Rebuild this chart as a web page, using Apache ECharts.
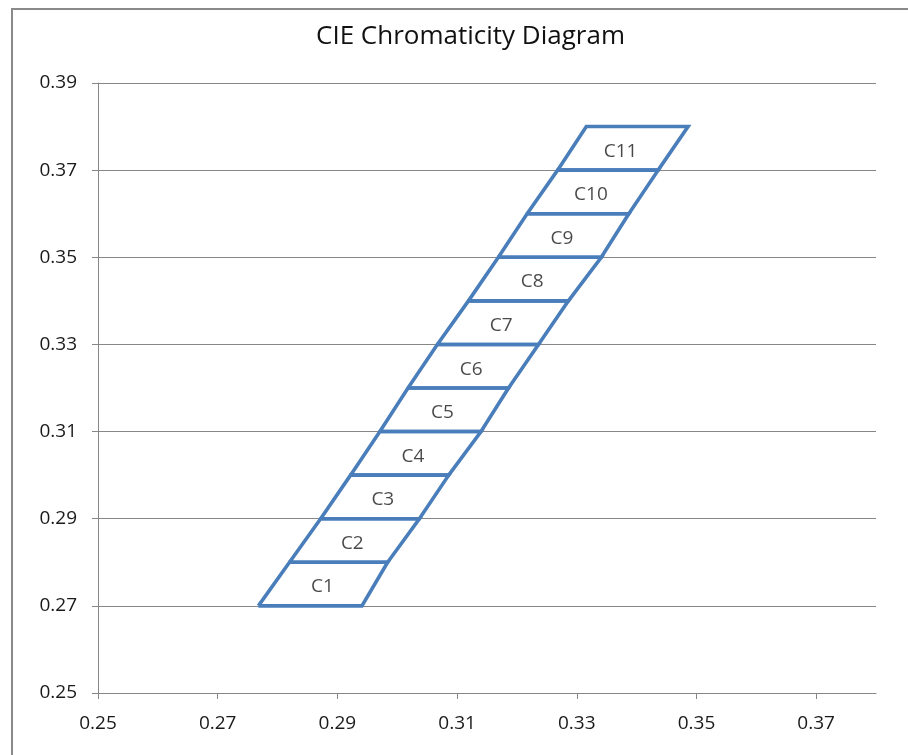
<!DOCTYPE html>
<html>
<head>
<meta charset="utf-8">
<script src="https://cdn.jsdelivr.net/npm/echarts@6/dist/echarts.min.js"></script>
<style>
  html, body { margin: 0; padding: 0; background: #fff; }
  #chart { width: 908px; height: 755px; }
</style>
</head>
<body>
<div id="chart"></div>
<script>
  // boundaries of the bins (y level with its left and right x)
  const yLevels = [0.27, 0.28, 0.29, 0.30, 0.31, 0.32, 0.33, 0.34, 0.35, 0.36, 0.37, 0.38];
  const leftX = [0.2768, 0.2820, 0.2872, 0.2922, 0.2971, 0.3018, 0.3067, 0.3119, 0.3169, 0.3217, 0.3268, 0.3316];
  const rightX = [0.2941, 0.2984, 0.3037, 0.3086, 0.3140, 0.3186, 0.3236, 0.3286, 0.3341, 0.3387, 0.3436, 0.3486];
  const binNames = ["C1", "C2", "C3", "C4", "C5", "C6", "C7", "C8", "C9", "C10", "C11"];
  const xTicks = [0.25, 0.27, 0.29, 0.31, 0.33, 0.35, 0.37];
  const yTicks = [0.25, 0.27, 0.29, 0.31, 0.33, 0.35, 0.37, 0.39];

  const font = "'Open Sans', sans-serif";
  const gray = "#878787";
  const blue = "#4a7ebb";

  const binSeries = binNames.map((name, i) => ({
    name,
    type: "line",
    symbol: "none",
    silent: true,
    lineStyle: { color: blue, width: 3.6, join: "miter" },
    data: [
      [leftX[i], yLevels[i]],
      [rightX[i], yLevels[i]],
      [rightX[i + 1], yLevels[i + 1]],
      [leftX[i + 1], yLevels[i + 1]],
      [leftX[i], yLevels[i]]
    ]
  }));

  const labelSeries = {
    type: "scatter",
    symbolSize: 1,
    itemStyle: { color: "transparent" },
    silent: true,
    label: {
      show: true, position: "inside", offset: [-2, 3],
      formatter: p => p.name, color: "#1a1a1a", fontFamily: font, fontSize: 19
    },
    data: binNames.map((name, i) => ({
      name,
      value: [(leftX[i] + leftX[i + 1] + rightX[i] + rightX[i + 1]) / 4, (yLevels[i] + yLevels[i + 1]) / 2]
    }))
  };

  const chart = echarts.init(document.getElementById("chart"), null, { renderer: "canvas" });
  chart.setOption({
    animation: false,
    backgroundColor: "#fff",
    title: {
      text: "CIE Chromaticity Diagram",
      left: 311, top: 19,
      textStyle: { fontFamily: font, fontSize: 26, fontWeight: "normal", color: "#111" }
    },
    graphic: [{
      type: "rect", silent: true,
      shape: { x: 12, y: 9, width: 1000, height: 1000 },
      style: { fill: "none", stroke: "#8a8a8a", lineWidth: 2 }
    }],
    grid: { left: 98, right: 32, top: 83, bottom: 62 },
    xAxis: {
      type: "value", min: 0.25, max: 0.38,
      axisLine: { show: true, lineStyle: { color: gray, width: 1 } },
      axisTick: { show: true, length: 6, lineStyle: { color: gray }, customValues: xTicks },
      axisLabel: { customValues: xTicks, margin: 21, formatter: v => v.toFixed(2), color: "#1a1a1a", fontFamily: font, fontSize: 19 },
      splitLine: { show: false }
    },
    yAxis: {
      type: "value", min: 0.25, max: 0.39,
      axisLine: { show: true, lineStyle: { color: gray, width: 1 } },
      axisTick: { show: true, length: 6, lineStyle: { color: gray }, customValues: yTicks },
      axisLabel: { customValues: yTicks, margin: 21, formatter: v => v.toFixed(2), color: "#1a1a1a", fontFamily: font, fontSize: 19 },
      splitLine: { show: true, lineStyle: { color: gray, width: 1 } }
    },
    series: [...binSeries, labelSeries]
  });
</script>
</body>
</html>
